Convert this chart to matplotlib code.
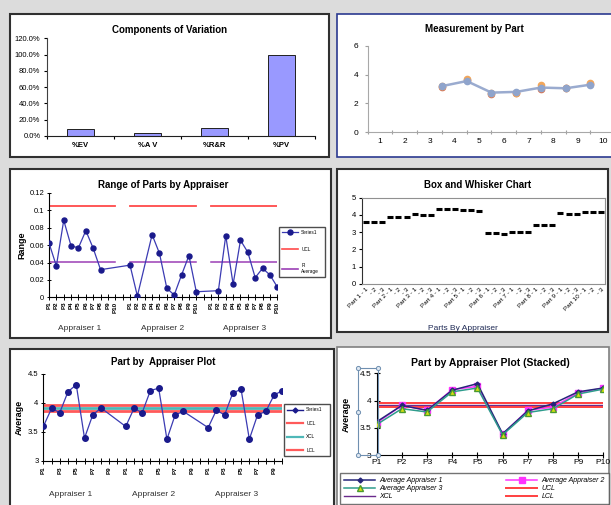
import numpy as np
import matplotlib
matplotlib.use('Agg')
import matplotlib.pyplot as plt
from matplotlib.patches import Rectangle
from matplotlib.lines import Line2D

plt.rcParams['font.family'] = ['Liberation Sans', 'DejaVu Sans']

W, H = 611, 505
nan = np.nan

# ---------------- data ----------------
cov_labels = ['%EV', '%A V', '%R&R', '%PV']
cov_values = [8.2, 4.1, 10.2, 99.3]

meas_parts = [str(i) for i in range(1, 11)]
meas_blue = [nan, nan, nan, 3.20, 3.55, 2.75, 2.80, 3.10, 3.05, 3.30]
meas_orange = [nan, nan, nan, 3.22, 3.70, 2.70, 2.75, 3.30, 3.05, 3.45]
meas_red = [nan, nan, nan, 3.15, 3.60, 2.65, 2.70, 3.00, 3.05, 3.35]

part_labels = ['P%d' % i for i in range(1, 11)]
appraisers = ['Appraiser 1', 'Appraiser 2', 'Appraiser 3']
range_app1 = [0.0625, 0.036, 0.0886, 0.059, 0.057, 0.0767, 0.0564, 0.0318, nan, nan]
range_app2 = [0.037, 0.0015, nan, 0.072, 0.0506, 0.0104, 0.0026, 0.0257, 0.048, 0.0064]
range_app3 = [nan, 0.0076, 0.0709, 0.015, 0.0656, 0.0518, 0.0226, 0.0334, 0.0257, 0.0119]
range_ucl = 0.105
range_rbar = 0.041

box_parts = ['Part %d' % i for i in range(1, 11)]
box_values = [[3.57, 3.57, 3.57], [3.88, 3.88, 3.90], [4.03, 3.97, 3.97],
              [4.37, 4.37, 4.33], [4.30, 4.28, 4.23], [2.95, 2.93, 2.88],
              [3.00, 3.02, 3.00], [3.42, 3.42, 3.42], [4.10, 4.08, 4.08],
              [4.15, 4.15, 4.15]]

pa_app1 = [3.59, 3.90, 3.83, 4.19, 4.31, 3.39, 3.79, 3.91, nan, nan]
pa_app2 = [3.59, 3.90, 3.83, 4.21, 4.25, 3.37, 3.79, 3.85, nan, nan]
pa_app3 = [3.57, 3.87, 3.79, 4.17, 4.23, 3.37, 3.79, 3.85, 4.13, 4.21]
pa_ucl, pa_xcl, pa_lcl = 3.955, 3.91, 3.865

st_app1 = [3.61, 3.91, 3.82, 4.19, 4.31, 3.39, 3.81, 3.94, 4.16, 4.23]
st_app2 = [3.59, 3.91, 3.82, 4.20, 4.26, 3.38, 3.82, 3.88, 4.14, 4.23]
st_app3 = [3.56, 3.85, 3.79, 4.16, 4.23, 3.37, 3.78, 3.85, 4.12, 4.21]
st_ucl, st_xcl, st_lcl = 3.95, 3.915, 3.88


# ---------------- helpers ----------------
def rect(x0, y0, x1, y1):
    return [x0 / W, 1 - y1 / H, (x1 - x0) / W, (y1 - y0) / H]


fig = plt.figure(figsize=(W / 100, H / 100), dpi=100)
fig.patch.set_facecolor('#dcdcdc')


def panel(x0, y0, x1, y1, ec='#303030', lw=1.5):
    r = Rectangle((x0 / W, 1 - y1 / H), (x1 - x0) / W, (y1 - y0) / H,
                  transform=fig.transFigure, facecolor='white', edgecolor=ec,
                  lw=lw, zorder=-5)
    fig.add_artist(r)


def T(x, y, s, **kw):
    kw.setdefault('ha', 'center')
    kw.setdefault('va', 'center')
    fig.text(x / W, 1 - y / H, s, **kw)


def legend_box(ax, handles, labels, x0, y0, x1, y1, fs, ls, ncol=1, hl=3.0, cs=1.0):
    leg = ax.legend(handles, labels, loc='center', ncol=ncol,
                    bbox_to_anchor=(x0 / W, 1 - y1 / H, (x1 - x0) / W, (y1 - y0) / H),
                    bbox_transform=fig.transFigure, mode='expand', fontsize=fs,
                    labelspacing=ls, handlelength=hl, frameon=True, fancybox=False,
                    borderpad=0.6, columnspacing=cs, handletextpad=0.6,
                    borderaxespad=0)
    leg.get_frame().set_edgecolor('#202020')
    leg.get_frame().set_linewidth(1.0)
    return leg


panel(10, 14, 329, 157)
panel(337, 14, 613, 157, ec='#2b3990', lw=1.2)
panel(10, 169, 331, 338)
panel(337, 169, 608, 332)
panel(10, 349, 334, 507)
panel(337, 347, 609, 507, ec='#808080', lw=1.2)

# ---------------- Panel 1: Components of Variation ----------------
ax1 = fig.add_axes(rect(46.7, 38.3, 315, 136))
x = np.arange(len(cov_labels))
ax1.bar(x, cov_values, width=0.4, color='#9999ff', edgecolor='#202020', lw=0.7)
ax1.set_xlim(-0.5, len(cov_labels) - 0.5)
ax1.set_ylim(0, 120)
ax1.set_yticks(np.arange(0, 121, 20))
ax1.set_yticklabels(['%.1f%%' % v for v in np.arange(0, 121, 20)], fontsize=5.5)
ax1.set_xticks(np.arange(-0.5, len(cov_labels), 1.0))
ax1.set_xticklabels([])
ax1.set_xticks(x, minor=True)
ax1.set_xticklabels(cov_labels, minor=True, fontsize=5.5, fontweight='bold')
ax1.tick_params(axis='x', which='minor', length=0, pad=4)
ax1.tick_params(axis='both', which='major', length=2.5, width=0.8, pad=2)
for s in ['top', 'right']:
    ax1.spines[s].set_visible(False)
ax1.spines['left'].set_color('#404040')
ax1.spines['bottom'].set_color('#202020')
ax1.patch.set_alpha(0)
T(170, 30, 'Components of Variation', fontsize=7, fontweight='bold')

# ---------------- Panel 2: Measurement by Part ----------------
ax2 = fig.add_axes(rect(367.7, 45.7, 615.2, 132.3))
pos = np.arange(len(meas_parts)) + 0.5
ax2.plot(pos, meas_red, 'o', color='#d9734f', ms=4.5, zorder=2)
ax2.plot(pos, meas_orange, 'o', color='#f2a65a', ms=4.5, zorder=3)
ax2.plot(pos, meas_blue, '-o', color='#9aabcf', mfc='#8fa4cc', mec='#8fa4cc', lw=1.8, ms=4.5, zorder=4)
ax2.set_xlim(0.5, 10.5)
ax2.set_ylim(0, 6)
ax2.set_yticks([0, 2, 4, 6])
ax2.set_xticks(np.arange(0.5, 10.5, 1.0))
ax2.set_xticklabels([])
ax2.set_xticks(np.arange(1, 11), minor=True)
ax2.set_xticklabels(meas_parts, minor=True, fontsize=6)
ax2.tick_params(axis='x', which='minor', length=0, pad=4)
ax2.tick_params(axis='x', which='major', length=3, direction='inout', color='#a0a0a0')
ax2.tick_params(axis='y', length=2.5, color='#a0a0a0', labelsize=6, pad=4)
for s in ['top', 'right']:
    ax2.spines[s].set_visible(False)
for s in ['left', 'bottom']:
    ax2.spines[s].set_color('#a8a8a8')
ax2.patch.set_alpha(0)
T(474, 29, 'Measurement by Part', fontsize=7, fontweight='bold')

# ---------------- Panel 3: Range of Parts by Appraiser ----------------
ax3 = fig.add_axes(rect(49, 193, 277.3, 297.3))
ranges = [range_app1, range_app2, range_app3]
xs, ys = [], []
for g, vals in enumerate(ranges):
    slots = 11 * g + np.arange(len(part_labels))
    ax3.plot([slots[0], slots[-1]], [range_ucl, range_ucl], color='#ff4a4a', lw=1.3, zorder=2)
    ax3.plot([slots[0], slots[-1]], [range_rbar, range_rbar], color='#9b3fb5', lw=1.1, zorder=2)
    for sl, v in zip(slots, vals):
        if not np.isnan(v):
            xs.append(sl)
            ys.append(v)
l_series, = ax3.plot(xs, ys, '-o', color='#3b3bb3', mfc='#1a1a8c', mec='#1a1a8c',
                     lw=0.9, ms=3.6, zorder=3)
ax3.set_xlim(0, 31)
ax3.set_ylim(0, 0.12)
ax3.set_yticks([0, 0.02, 0.04, 0.06, 0.08, 0.1, 0.12])
ax3.set_yticklabels(['0', '0.02', '0.04', '0.06', '0.08', '0.1', '0.12'], fontsize=5.5)
all_slots = np.arange(32)
lbls = []
for sl in all_slots:
    g, j = divmod(sl, 11)
    lbls.append(part_labels[j] if j < 10 else '')
ax3.set_xticks(all_slots)
ax3.set_xticklabels(lbls, rotation=90, fontsize=4.5, fontweight='bold')
ax3.tick_params(axis='x', length=4, direction='inout', width=0.7, pad=1)
ax3.tick_params(axis='y', length=3, direction='inout', width=0.7, pad=2)
for s in ['top', 'right']:
    ax3.spines[s].set_visible(False)
ax3.patch.set_alpha(0)
ax3.set_ylabel('Range', fontsize=6.5, fontweight='bold', labelpad=2)
for g, name in enumerate(appraisers):
    T(80 + 82.5 * g, 328, name, fontsize=6, color='#303030')
T(163, 185, 'Range of Parts by Appraiser', fontsize=7, fontweight='bold')
h_ucl = Line2D([], [], color='#ff4a4a', lw=1.2)
h_rb = Line2D([], [], color='#9b3fb5', lw=1.2)
legend_box(ax3, [l_series, h_ucl, h_rb], ['Series1', 'UCL', 'R\nAverage'],
           279, 223, 325, 281, fs=3.4, ls=2.5, hl=3.5)

# ---------------- Panel 4: Box and Whisker ----------------
ax4 = fig.add_axes(rect(362, 197.7, 605, 284))
bx, by, bl = [], [], []
for p, vals in enumerate(box_values):
    for k, v in enumerate(vals):
        bx.append(3 * p + k + 0.5)
        by.append(v)
        bl.append('%s - %d' % (box_parts[p], k + 1) if k == 0 else '- %d' % (k + 1))
ax4.plot(bx, by, '_', color='black', ms=4.2, mew=2.2)
ax4.set_xlim(0, 30)
ax4.set_ylim(0, 5)
ax4.set_yticks(range(6))
ax4.set_xticks(bx)
ax4.set_xticklabels(bl, rotation=45, ha='right', rotation_mode='anchor', fontsize=4.6)
ax4.tick_params(axis='x', length=0, pad=2)
ax4.tick_params(axis='y', length=2.5, labelsize=5.5, pad=2)
for s in ax4.spines.values():
    s.set_color('#909090')
ax4.spines['left'].set_color('#303030')
T(463, 328, 'Parts By Appraiser', fontsize=6, color='#1f2a55')
T(478, 185, 'Box and Whisker Chart', fontsize=7, fontweight='bold')

# ---------------- Panel 5: Part by Appraiser Plot ----------------
ax5 = fig.add_axes(rect(43.3, 373.7, 282.3, 460.7))
l5_ucl = ax5.axhline(pa_ucl, color='#ff5a5a', lw=2.0, zorder=2)
l5_xcl = ax5.axhline(pa_xcl, color='#4fb8b8', lw=2.0, zorder=2)
l5_lcl = ax5.axhline(pa_lcl, color='#ff5a5a', lw=2.0, zorder=2)
xs, ys = [], []
for g, vals in enumerate([pa_app1, pa_app2, pa_app3]):
    for j, v in enumerate(vals):
        if not np.isnan(v):
            xs.append(10 * g + j)
            ys.append(v)
l5, = ax5.plot(xs, ys, '-o', color='#3b3bb3', mfc='#1a1a8c', mec='#1a1a8c', lw=0.9, ms=4.0, zorder=3)
ax5.set_xlim(0, 29)
ax5.set_ylim(3, 4.5)
ax5.set_yticks([3, 3.5, 4, 4.5])
ax5.set_yticklabels(['3', '3.5', '4', '4.5'], fontsize=5.5)
slots5 = np.arange(30)
ax5.set_xticks(slots5)
ax5.set_xticklabels([part_labels[s % 10] if (s % 10) % 2 == 0 else '' for s in slots5],
                    rotation=90, fontsize=4.5, fontweight='bold')
ax5.tick_params(axis='x', length=4, direction='inout', width=0.7, pad=2)
ax5.tick_params(axis='y', length=3, direction='inout', width=0.7, pad=2)
for s in ['top', 'right']:
    ax5.spines[s].set_visible(False)
ax5.patch.set_alpha(0)
ax5.set_ylabel('Average', fontsize=6.5, fontweight='bold', labelpad=3)
for g, name in enumerate(appraisers):
    T(71 + 83 * g, 494, name, fontsize=6, color='#303030')
T(163, 362, 'Part by  Appraiser Plot', fontsize=7, fontweight='bold')
h5s = Line2D([], [], color='#1a1a8c', marker='D', ms=2.5, lw=1.0)
h5u = Line2D([], [], color='#ff5a5a', lw=1.6)
h5x = Line2D([], [], color='#4fb8b8', lw=1.6)
h5l = Line2D([], [], color='#ff5a5a', lw=1.6)
legend_box(ax5, [h5s, h5u, h5x, h5l], ['Series1', 'UCL', 'XCL', 'LCL'],
           284, 407, 330, 453, fs=3.4, ls=1.8, hl=3.5)

# ---------------- Panel 6: Part by Appraiser Plot (Stacked) ----------------
ax6 = fig.add_axes(rect(376.7, 373.3, 603.3, 455))
px = np.arange(len(part_labels))
s6u = ax6.axhline(st_ucl, color='#ff4040', lw=1.4, zorder=2)
s6x = ax6.axhline(st_xcl, color='#6a2a8c', lw=1.0, zorder=2)
s6l = ax6.axhline(st_lcl, color='#ff4040', lw=1.4, zorder=2)
a1, = ax6.plot(px, st_app1, '-D', color='#26267a', ms=2.5, lw=1.1, zorder=4)
a2, = ax6.plot(px, st_app2, '-s', color='#ff33ff', ms=5, lw=1.1, zorder=3)
a3, = ax6.plot(px, st_app3, '-^', color='#2e9c8c', mfc='#d8e010', mec='#4a9a30', ms=4, lw=1.1, zorder=5)
ax6.set_xlim(0, 9)
ax6.set_ylim(3, 4.5)
ax6.set_yticks([3, 3.5, 4, 4.5])
ax6.set_yticklabels(['3', '3.5', '4', '4.5'], fontsize=6)
ax6.set_xticks(px)
ax6.set_xticklabels(part_labels, fontsize=6)
ax6.tick_params(axis='x', length=4, direction='inout', width=0.8, pad=1)
ax6.tick_params(axis='y', length=4, direction='inout', width=0.8, pad=2)
for s in ['top', 'right']:
    ax6.spines[s].set_visible(False)
ax6.patch.set_alpha(0)
ax6.set_ylabel('Average', fontsize=6.5, fontweight='bold', labelpad=6)
T(490, 363, 'Part by Appraiser Plot (Stacked)', fontsize=7.5, fontweight='bold')
# selection frame around the value axis
sel = Rectangle((358.3 / W, 1 - 455 / H), 20 / W, 86.7 / H, transform=fig.transFigure,
                fill=False, edgecolor='#6f8fb0', lw=0.8, zorder=6)
fig.add_artist(sel)
fig.add_artist(Line2D(np.array([358.3, 378.3, 358.3, 378.3, 358.3]) / W,
                      1 - np.array([368.3, 368.3, 455, 455, 411.6]) / H,
                      transform=fig.transFigure, ls='none', marker='o', ms=3,
                      mfc='#dfe8f2', mec='#6f8fb0', mew=0.7, zorder=7))
leg6 = legend_box(ax6, [a1, a3, s6x, a2, s6u, s6l],
                  ['Average Appraiser 1', 'Average Appraiser 3', 'XCL',
                   'Average Appraiser 2', 'UCL', 'LCL'],
                  340, 472, 609, 505, fs=5, ls=0.15, ncol=2, hl=4.5, cs=1.0)
for t in leg6.get_texts():
    t.set_fontstyle('italic')
leg6.get_frame().set_edgecolor('#505050')

fig.savefig('out.png', dpi=100, facecolor=fig.get_facecolor())
